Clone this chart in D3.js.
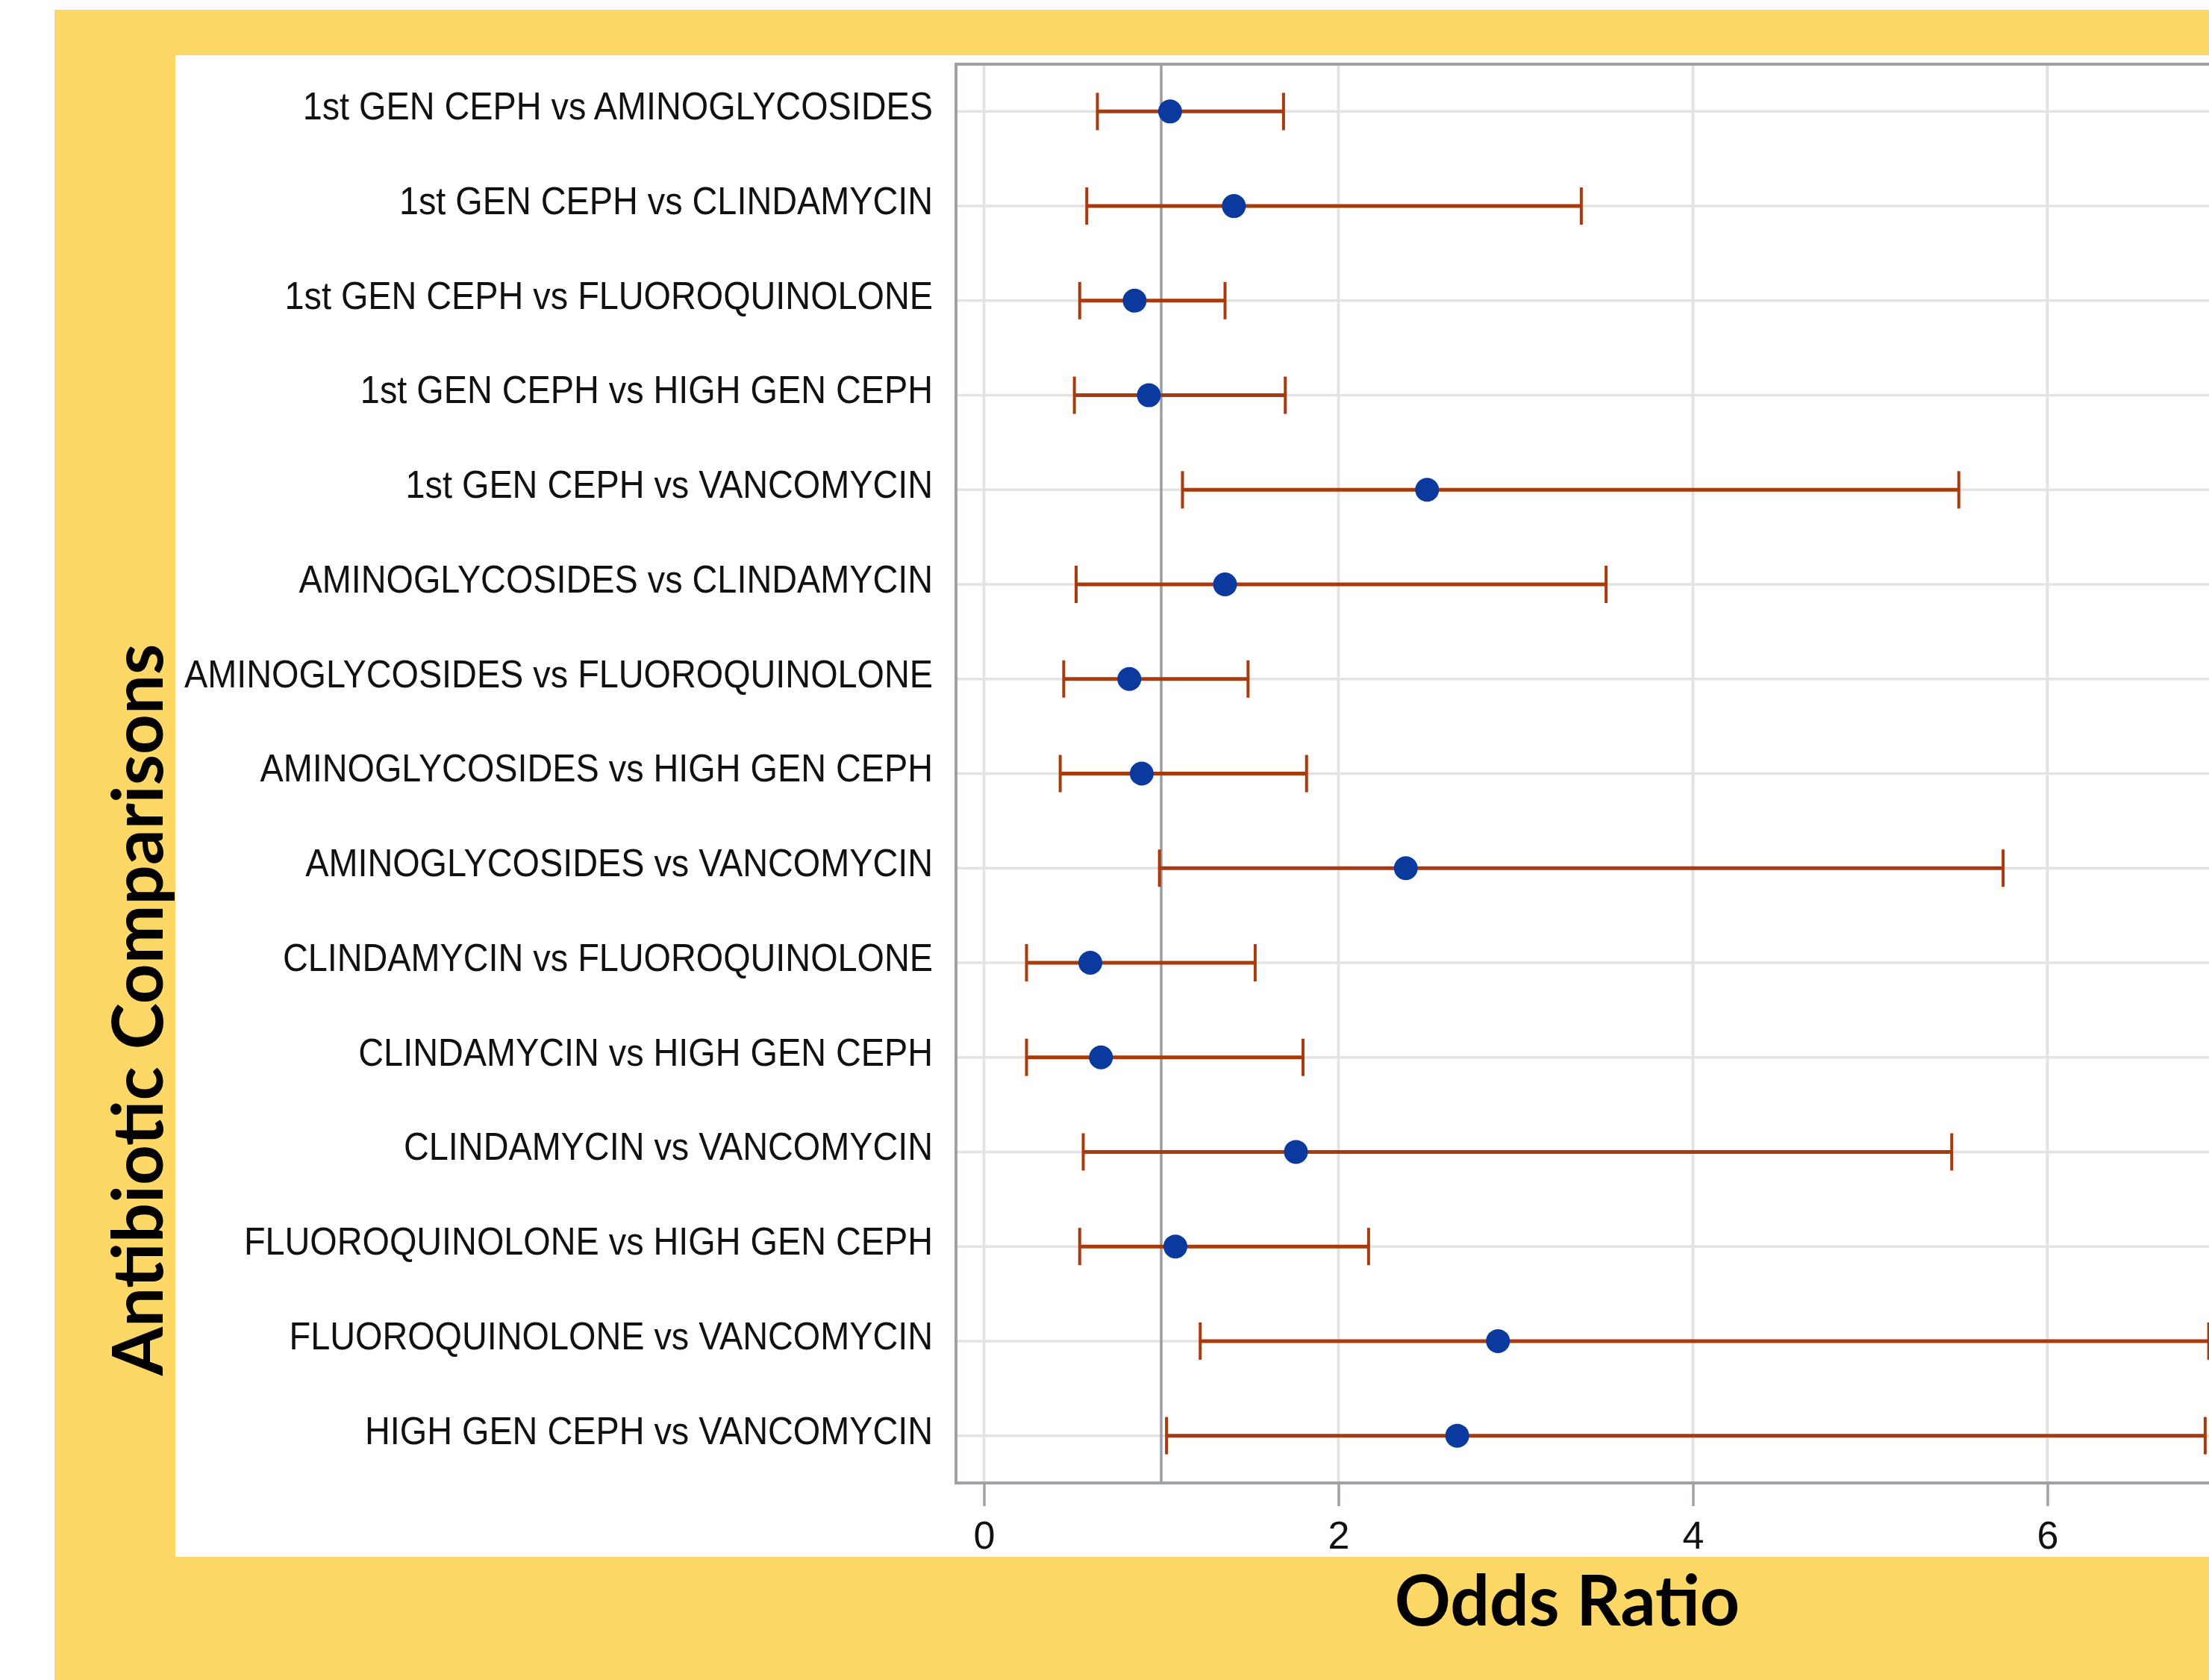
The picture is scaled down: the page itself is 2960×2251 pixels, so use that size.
<!DOCTYPE html>
<html>
<head>
<meta charset="utf-8">
<script src="https://cdn.jsdelivr.net/npm/d3@7"></script>
<style>
  html, body { margin: 0; padding: 0; background: #ffffff; }
  svg { display: block; }
</style>
</head>
<body>
<svg id="chart" width="2960" height="2251"></svg>
<script>
const comparisons = [
  "1st GEN CEPH vs AMINOGLYCOSIDES",
  "1st GEN CEPH vs CLINDAMYCIN",
  "1st GEN CEPH vs FLUOROQUINOLONE",
  "1st GEN CEPH vs HIGH GEN CEPH",
  "1st GEN CEPH vs VANCOMYCIN",
  "AMINOGLYCOSIDES vs CLINDAMYCIN",
  "AMINOGLYCOSIDES vs FLUOROQUINOLONE",
  "AMINOGLYCOSIDES vs HIGH GEN CEPH",
  "AMINOGLYCOSIDES vs VANCOMYCIN",
  "CLINDAMYCIN vs FLUOROQUINOLONE",
  "CLINDAMYCIN vs HIGH GEN CEPH",
  "CLINDAMYCIN vs VANCOMYCIN",
  "FLUOROQUINOLONE vs HIGH GEN CEPH",
  "FLUOROQUINOLONE vs VANCOMYCIN",
  "HIGH GEN CEPH vs VANCOMYCIN"
];
const oddsRatio = [1.05, 1.41, 0.85, 0.93, 2.50, 1.36, 0.82, 0.89, 2.38, 0.60, 0.66, 1.76, 1.08, 2.90, 2.67];
const lowerCI   = [0.64, 0.58, 0.54, 0.51, 1.12, 0.52, 0.45, 0.43, 0.99, 0.24, 0.24, 0.56, 0.54, 1.22, 1.03];
const upperCI   = [1.69, 3.37, 1.36, 1.70, 5.50, 3.51, 1.49, 1.82, 5.75, 1.53, 1.80, 5.46, 2.17, 6.91, 6.89];
const xTicks = [0, 2, 4, 6];
const referenceValue = 1;
const xTitle = "Odds Ratio";
const yTitle = "Antibiotic Comparisons";

const rows = comparisons.map((c, i) => ({label: c, or: oddsRatio[i], lo: lowerCI[i], hi: upperCI[i]}));

const W = 2960, H = 2251;
const svg = d3.select("#chart");

// backgrounds
svg.append("rect").attr("x", 0).attr("y", 0).attr("width", W).attr("height", H).attr("fill", "#ffffff");
svg.append("rect").attr("x", 73).attr("y", 13).attr("width", W - 73).attr("height", H - 13).attr("fill", "#FED866");
svg.append("rect").attr("x", 235).attr("y", 74).attr("width", W - 235).attr("height", 2086 - 74).attr("fill", "#ffffff");

// plot area
const plotLeft = 1281, plotTop = 86, plotBottom = 1987, plotRight = 3100;

const x = d3.scaleLinear().domain([0, 6]).range([1318.5, 2743.5]);
const y = d3.scalePoint().domain(comparisons).range([plotTop, plotBottom]).padding(0.5);

const gridColor = "#e3e3e3";
const frameColor = "#9ea2a6";

// horizontal gridlines
svg.append("g").selectAll("line").data(comparisons).join("line")
  .attr("x1", plotLeft).attr("x2", plotRight)
  .attr("y1", d => y(d)).attr("y2", d => y(d))
  .attr("stroke", gridColor).attr("stroke-width", 3.5);

// vertical gridlines
svg.append("g").selectAll("line").data(xTicks).join("line")
  .attr("x1", d => x(d)).attr("x2", d => x(d))
  .attr("y1", plotTop).attr("y2", plotBottom)
  .attr("stroke", gridColor).attr("stroke-width", 4);

// reference line
svg.append("line")
  .attr("x1", x(referenceValue)).attr("x2", x(referenceValue))
  .attr("y1", plotTop).attr("y2", plotBottom)
  .attr("stroke", "#9a9ea2").attr("stroke-width", 3.5);

// frame
svg.append("rect")
  .attr("x", plotLeft).attr("y", plotTop)
  .attr("width", plotRight - plotLeft).attr("height", plotBottom - plotTop)
  .attr("fill", "none").attr("stroke", frameColor).attr("stroke-width", 4);

// error bars
const barColor = "#a83a0c";
const capHalf = 25;
const eb = svg.append("g");
eb.selectAll("line.ci").data(rows).join("line").attr("class", "ci")
  .attr("x1", d => x(d.lo)).attr("x2", d => x(d.hi))
  .attr("y1", d => y(d.label)).attr("y2", d => y(d.label))
  .attr("stroke", barColor).attr("stroke-width", 5);
eb.selectAll("line.capl").data(rows).join("line").attr("class", "capl")
  .attr("x1", d => x(d.lo)).attr("x2", d => x(d.lo))
  .attr("y1", d => y(d.label) - capHalf).attr("y2", d => y(d.label) + capHalf)
  .attr("stroke", barColor).attr("stroke-width", 4);
eb.selectAll("line.caph").data(rows).join("line").attr("class", "caph")
  .attr("x1", d => x(d.hi)).attr("x2", d => x(d.hi))
  .attr("y1", d => y(d.label) - capHalf).attr("y2", d => y(d.label) + capHalf)
  .attr("stroke", barColor).attr("stroke-width", 4);

// markers
svg.append("g").selectAll("circle").data(rows).join("circle")
  .attr("cx", d => x(d.or)).attr("cy", d => y(d.label))
  .attr("r", 16).attr("fill", "#0a3a9e");

// x axis ticks + labels
const xAxis = d3.axisBottom(x).tickValues(xTicks).tickSize(31).tickPadding(20).tickFormat(d3.format("d"));
const gx = svg.append("g").attr("transform", `translate(0,${plotBottom})`).call(xAxis);
gx.select(".domain").remove();
gx.selectAll(".tick line").attr("stroke", frameColor).attr("stroke-width", 3.5);
gx.selectAll(".tick text")
  .attr("fill", "#111")
  .style("font-family", "'Liberation Sans', Arial, sans-serif")
  .style("font-size", "52px");

// y axis labels
const yAxis = d3.axisLeft(y).tickSize(0).tickPadding(31);
const gy = svg.append("g").attr("transform", `translate(${plotLeft},0)`).call(yAxis);
gy.select(".domain").remove();
gy.selectAll(".tick text")
  .attr("fill", "#111")
  .attr("dy", "0.2em")
  .style("font-family", "'Liberation Sans', Arial, sans-serif")
  .style("font-size", "52px")
  .each(function() {
    const len = this.getComputedTextLength();
    d3.select(this).attr("textLength", len * 0.9).attr("lengthAdjust", "spacingAndGlyphs");
  });

// titles
svg.append("text")
  .attr("x", 2100).attr("y", 2178)
  .attr("text-anchor", "middle")
  .style("font-family", "Lato, 'Open Sans', sans-serif")
  .style("font-weight", "bold")
  .style("font-size", "93px")
  .attr("fill", "#000")
  .text(xTitle);

svg.append("text")
  .attr("transform", "translate(218,1353) rotate(-90)")
  .attr("text-anchor", "middle")
  .style("font-family", "Lato, 'Open Sans', sans-serif")
  .style("font-weight", "bold")
  .style("font-size", "94px")
  .attr("fill", "#000")
  .text(yTitle);
</script>
</body>
</html>
